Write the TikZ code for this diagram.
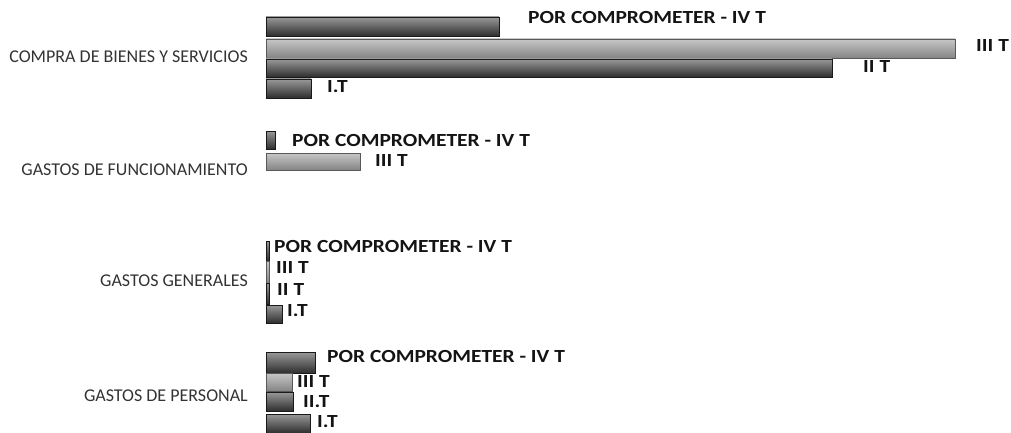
\documentclass[tikz,border=0pt]{standalone}
\usepackage{fontspec}
\setmainfont{Carlito}
\newcommand{\widetext}[1]{\scalebox{1.16}[1]{#1}}
\begin{document}
\begin{tikzpicture}[x=1pt,y=-1pt,
  darkbar/.style={draw=black!90,line width=0.8pt,top color=black!40,middle color=black!68,bottom color=black!82},
  lightbar/.style={draw=black!65,line width=0.8pt,top color=black!22,middle color=black!35,bottom color=black!48},
  cat/.style={anchor=east,inner sep=0pt,text=black!80,font=\fontsize{18}{20}\selectfont},
  lab/.style={anchor=west,inner sep=0pt,text=black!92,font=\bfseries\fontsize{18.5}{20}\selectfont}]
\useasboundingbox (0,0) rectangle (1011,433);
% ---------- COMPRA DE BIENES Y SERVICIOS
\node[cat] (c1) at (248,57) {COMPRA DE BIENES Y SERVICIOS};
\shade[darkbar]  (266,17) rectangle (499,36);
\shade[lightbar] (266,39) rectangle (955,58);
\shade[darkbar]  (266,59) rectangle (832,77);
\shade[darkbar]  (266,79) rectangle (311,98);
\node[lab] (c1a) at (528,17) {\widetext{POR COMPROMETER - IV T}};
\node[lab] (c1b) at (976,46) {\widetext{III T}};
\node[lab] (c1c) at (863,67) {\widetext{II T}};
\node[lab] (c1d) at (327,87) {\widetext{I.T}};
% ---------- GASTOS DE FUNCIONAMIENTO
\node[cat] (c2) at (248,170) {GASTOS DE FUNCIONAMIENTO};
\shade[darkbar]  (266,131) rectangle (275,149);
\shade[lightbar] (266,153) rectangle (360,170);
\node[lab] (c2a) at (292,140) {\widetext{POR COMPROMETER - IV T}};
\node[lab] (c2b) at (375,161) {\widetext{III T}};
% ---------- GASTOS GENERALES
\node[cat] (c3) at (248,281) {GASTOS GENERALES};
\shade[darkbar]  (266,241) rectangle (269,261);
\shade[lightbar] (266,261) rectangle (269,283);
\shade[darkbar]  (266,283) rectangle (269,304);
\shade[darkbar]  (266,305) rectangle (282,323);
\node[lab] (c3a) at (274,246) {\widetext{POR COMPROMETER - IV T}};
\node[lab] (c3b) at (276,267) {\widetext{III T}};
\node[lab] (c3c) at (277,289) {\widetext{II T}};
\node[lab] (c3d) at (287,311) {\widetext{I.T}};
% ---------- GASTOS DE PERSONAL
\node[cat] (c4) at (248,396) {GASTOS DE PERSONAL};
\shade[darkbar]  (266,352) rectangle (315,373);
\shade[lightbar] (266,373) rectangle (292,391);
\shade[darkbar]  (266,392) rectangle (293,411);
\shade[darkbar]  (266,414) rectangle (310,433);
\node[lab] (c4a) at (327,356) {\widetext{POR COMPROMETER - IV T}};
\node[lab] (c4b) at (297,381) {\widetext{III T}};
\node[lab] (c4c) at (303,402) {\widetext{II.T}};
\node[lab] (c4d) at (317,422) {\widetext{I.T}};
\end{tikzpicture}
\end{document}
